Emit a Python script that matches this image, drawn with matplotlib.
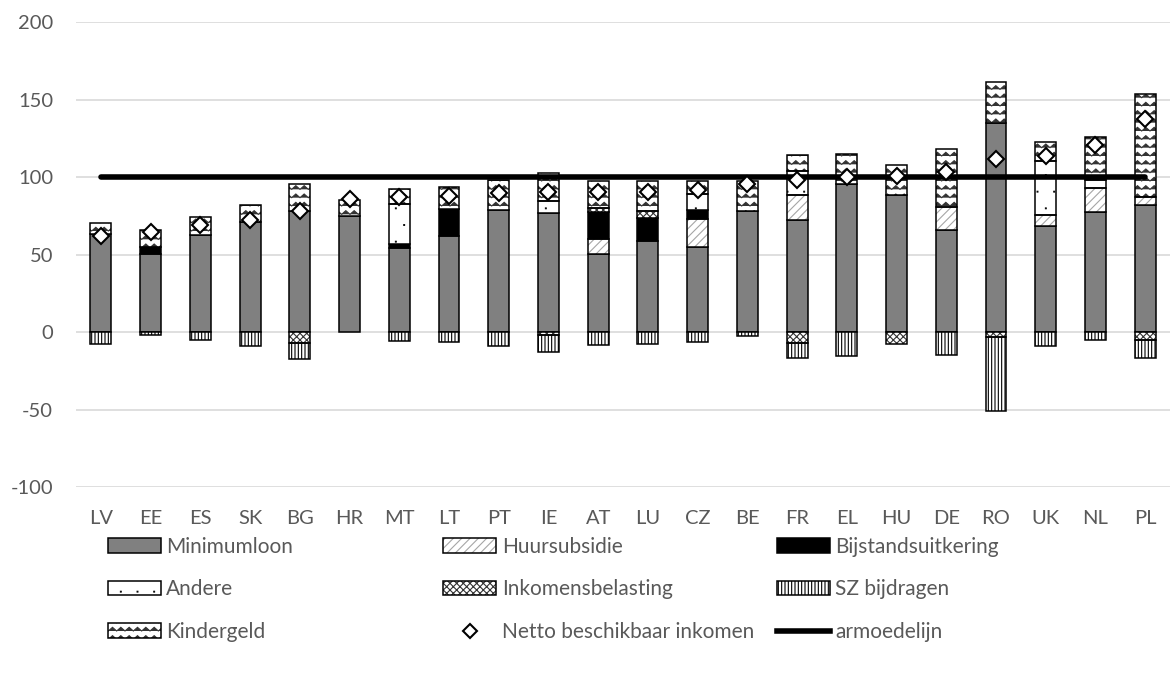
import numpy as np
import matplotlib
matplotlib.use("Agg")
import matplotlib.pyplot as plt
from matplotlib import hatch as mhatch
from matplotlib.path import Path
from matplotlib.patches import Patch
from matplotlib.lines import Line2D
from matplotlib.legend_handler import HandlerTuple

# ---------------- data ----------------
categories = ["LV", "EE", "ES", "SK", "BG", "HR", "MT", "LT", "PT", "IE", "AT",
              "LU", "CZ", "BE", "FR", "EL", "HU", "DE", "RO", "UK", "NL", "PL"]
minimumloon = [63.5, 50.6, 62.8, 70.9, 78.0, 74.8, 54.4, 62.4, 78.9, 76.7, 50.6,
               58.7, 55.3, 78.0, 72.7, 95.6, 88.5, 66.2, 135.3, 68.4, 77.4, 82.3]
huursubsidie = [0, 0, 0, 0, 0, 0, 0, 0, 0, 0, 9.6,
                0, 17.8, 0, 15.8, 0, 0, 14.8, 0, 7.5, 15.6, 5.2]
bijstand = [0, 4.7, 0, 0, 0, 0, 2.6, 17.1, 0, 0, 17.2,
            14.8, 5.8, 0, 0, 0, 0, 0, 0, 0, 0, 0]
andere = [0, 0, 0, 0, 0, 0, 25.7, 0, 0, 8.3, 0,
          0, 10.3, 0, 15.7, 0, 0, 0, 0, 34.7, 5.2, 0]
inkomensbelasting = [0, 0, 0, 0, -6.9, 0, 0, 0, 0, -2.0, 2.8,
                     5.0, 0, 0, -6.6, 0, -7.3, 0, -3.0, 0, 0, -4.7]
sz_bijdragen = [-7.3, -2.0, -5.0, -8.8, -10.5, 0, -5.8, -6.2, -9.0, -11.0, -8.0,
                -7.3, -6.2, -2.4, -9.9, -15.4, 0, -14.8, -47.6, -8.8, -5.1, -11.6]
kindergeld = [6.8, 10.7, 11.4, 11.0, 17.6, 10.5, 9.7, 13.9, 19.3, 18.0, 17.5,
              19.2, 8.1, 19.3, 10.3, 19.7, 19.1, 37.1, 26.3, 12.4, 28.0, 66.4]
netto = [62.4, 64.5, 69.4, 72.6, 78.5, 86.0, 87.0, 88.0, 89.6, 90.2, 90.2,
         90.2, 91.7, 95.6, 98.2, 100.3, 100.5, 103.7, 111.7, 113.8, 120.9, 137.4]
armoedelijn = [100] * len(categories)
yticks = [-100, -50, 0, 50, 100, 150, 200]

# ---------------- custom hatches ----------------
class ZigZagHatch(mhatch.HatchPatternBase):
    """wave-like zigzag rows, triggered by 'O'"""
    def __init__(self, hatch, density):
        self.num_rows = int(hatch.count('O') * density)
        self.n_half = 24
        self.num_vertices = self.num_rows * (self.n_half + 1)

    def set_vertices_and_codes(self, vertices, codes):
        amp = 0.22 / max(self.num_rows, 1)
        xs = np.linspace(0, 1, self.n_half + 1)
        offs = np.where(np.arange(self.n_half + 1) % 2 == 0, -amp, amp)
        n = self.n_half + 1
        k = 0
        for r in range(self.num_rows):
            y0 = (r + 0.5) / self.num_rows
            vertices[k:k + n, 0] = xs
            vertices[k:k + n, 1] = y0 + offs
            codes[k] = Path.MOVETO
            codes[k + 1:k + n] = Path.LINETO
            k += n


class TinyDots(mhatch.HatchPatternBase):
    """sparse tiny dots, triggered by 'o'"""
    def __init__(self, hatch, density):
        self.n = int(hatch.count('o') * density)
        self.num_vertices = self.n * self.n * 5

    def set_vertices_and_codes(self, vertices, codes):
        s = 0.004
        k = 0
        for i in range(self.n):
            for j in range(self.n):
                cx = ((j + 0.25 + 0.5 * (i % 2)) / self.n) % 1.0
                cy = (i + 0.5) / self.n
                vertices[k:k + 5] = [(cx - s, cy - s), (cx + s, cy - s),
                                     (cx + s, cy + s), (cx - s, cy + s),
                                     (cx - s, cy - s)]
                codes[k:k + 5] = [Path.MOVETO, Path.LINETO, Path.LINETO,
                                  Path.LINETO, Path.CLOSEPOLY]
                k += 5


def _swap(t):
    if t is mhatch.LargeCircles:
        return ZigZagHatch
    if t is mhatch.SmallCircles:
        return TinyDots
    return t

mhatch._hatch_types = [_swap(t) for t in mhatch._hatch_types]

plt.rcParams['font.family'] = ['Lato', 'DejaVu Sans']
plt.rcParams['axes.unicode_minus'] = False
plt.rcParams['hatch.linewidth'] = 0.8

fig = plt.figure(figsize=(11.7, 6.74), dpi=100)
ax = fig.add_axes([0.065, 0.277, 0.935, 0.69])

x = np.arange(len(categories))
w = 0.42
edge = dict(edgecolor='black', linewidth=1.1)

pos_series = [
    ("Minimumloon", minimumloon, dict(facecolor='#808080')),
    ("Huursubsidie", huursubsidie, dict(facecolor='white', hatch='////', hc='#a6a6a6')),
    ("Bijstandsuitkering", bijstand, dict(facecolor='black')),
    ("Andere", andere, dict(facecolor='white', hatch='o')),
    ("Inkomensbelasting", inkomensbelasting, dict(facecolor='white', hatch='xxxxx',
                                                  hc='#333333')),
    ("SZ bijdragen", sz_bijdragen, dict(facecolor='white', hatch='|||||')),
    ("Kindergeld", kindergeld, dict(facecolor='white', hatch='OO', hc='#333333')),
]

pos_base = np.zeros(len(categories))
neg_base = np.zeros(len(categories))
handles = {}
for name, vals, st in pos_series:
    vals = np.asarray(vals, dtype=float)
    bottoms = np.where(vals >= 0, pos_base, neg_base)
    mask = vals != 0
    fc = st['facecolor']
    hatch = st.get('hatch')
    hc = st.get('hc', 'black')
    if hatch:
        ax.bar(x[mask], vals[mask], w, bottom=bottoms[mask], facecolor=fc,
               edgecolor=hc, linewidth=0, hatch=hatch, zorder=3)
        ax.bar(x[mask], vals[mask], w, bottom=bottoms[mask], facecolor='none',
               zorder=4, **edge)
        handles[name] = (Patch(facecolor=fc, edgecolor=hc, linewidth=0, hatch=hatch),
                         Patch(facecolor='none', **edge))
    else:
        ax.bar(x[mask], vals[mask], w, bottom=bottoms[mask], facecolor=fc,
               zorder=3, **edge)
        handles[name] = Patch(facecolor=fc, **edge)
    pos_base = pos_base + np.where(vals > 0, vals, 0)
    neg_base = neg_base + np.where(vals < 0, vals, 0)

ax.plot(x, armoedelijn, color='black', linewidth=4, solid_capstyle='round', zorder=5)
mk, = ax.plot(x, netto, linestyle='none', marker='D', markersize=8.5,
              markerfacecolor='white', markeredgecolor='black', markeredgewidth=1.5,
              zorder=6)
handles["Netto beschikbaar inkomen"] = Line2D([0], [0], linestyle='none', marker='D',
                                              markersize=7, markerfacecolor='white',
                                              markeredgecolor='black',
                                              markeredgewidth=1.5)
handles["armoedelijn"] = Line2D([0], [0], color='black', linewidth=4)

ax.set_xlim(-0.5, len(categories) - 0.5)
ax.set_ylim(-100, 200)
ax.set_yticks(yticks)
ax.set_xticks(x)
ax.set_xticklabels(categories)
ax.grid(axis='y', color='#d9d9d9', linewidth=1.2, zorder=0)
ax.set_axisbelow(True)
for s in ax.spines.values():
    s.set_visible(False)
ax.tick_params(axis='both', length=0, labelsize=14.5, colors='#595959')
ax.tick_params(axis='y', pad=16.5)
ax.tick_params(axis='x', pad=16.5)

columns = [
    ["Minimumloon", "Andere", "Kindergeld"],
    ["Huursubsidie", "Inkomensbelasting", "Netto beschikbaar inkomen"],
    ["Bijstandsuitkering", "SZ bijdragen", "armoedelijn"],
]
col_x = [0.083, 0.370, 0.655]
for cx, names in zip(col_x, columns):
    leg = fig.legend([handles[n] for n in names], names, loc='upper left',
                     bbox_to_anchor=(cx, 0.219), frameon=False, fontsize=15,
                     handlelength=2.55, handleheight=0.67, handletextpad=0.25,
                     labelspacing=1.08, borderpad=0, labelcolor='#595959',
                     handler_map={tuple: HandlerTuple(ndivide=1)})

fig.savefig("out.png", dpi=100)
